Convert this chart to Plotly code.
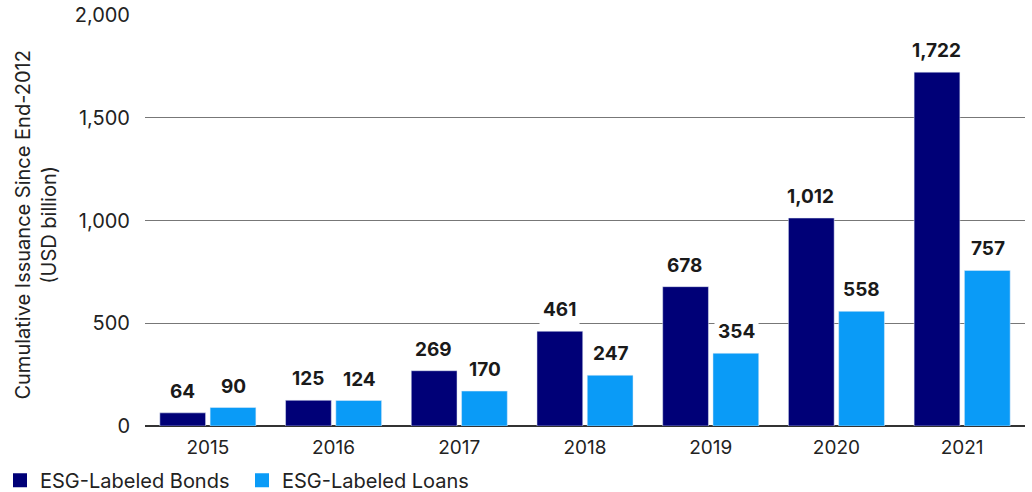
import plotly.graph_objects as go

years = ["2015", "2016", "2017", "2018", "2019", "2020", "2021"]
bonds = [64, 125, 269, 461, 678, 1012, 1722]
loans = [90, 124, 170, 247, 354, 558, 757]
series_names = ["ESG-Labeled Bonds", "ESG-Labeled Loans"]

bond_color = "#000077"
loan_color = "#0A9BF7"
font_family = "Inter, 'Noto Sans', sans-serif"

fig = go.Figure()
fig.add_bar(x=years, y=bonds, name=series_names[0], marker_color=bond_color,
            showlegend=False)
fig.add_bar(x=years, y=loans, name=series_names[1], marker_color=loan_color,
            showlegend=False)

# legend entries drawn as larger square swatches
for name, color in zip(series_names, (bond_color, loan_color)):
    fig.add_scatter(x=[None], y=[None], mode="markers", name=name,
                    marker=dict(symbol="square", size=14, color=color))

# value labels above each bar, with a white box that masks the gridlines
# (x given as category index so the category axis does not read "2015" as a number)
for i in range(len(years)):
    for val, shift in ((bonds[i], -25.5), (loans[i], 25.5)):
        fig.add_annotation(
            x=i, y=val, xref="x", yref="y", xshift=shift, yshift=6,
            text=f"<b>{val:,}</b>", showarrow=False, yanchor="bottom",
            bgcolor="white", borderpad=3,
            font=dict(family=font_family, size=19, color="#1a1a1a"),
        )

# y-axis title placed as a rotated annotation left of the tick labels
fig.add_annotation(
    xref="paper", yref="paper", x=-0.1239, y=0.49, xanchor="center", yanchor="middle",
    text="Cumulative Issuance Since End-2012<br>(USD billion)", textangle=-90,
    showarrow=False, font=dict(family=font_family, size=20, color="#222222"),
)

fig.update_layout(
    width=1032, height=492,
    margin=dict(l=145, r=7, t=15, b=66, autoexpand=False),
    paper_bgcolor="white", plot_bgcolor="white",
    barmode="group", bargap=0.2, bargroupgap=0.09,
    font=dict(family=font_family, size=19, color="#222222"),
    showlegend=True,
    legend=dict(orientation="h", xref="container", yref="container",
                x=0.0, xanchor="left", y=0.024, yanchor="middle",
                font=dict(size=20, color="#222222"),
                entrywidth=197, entrywidthmode="pixels",
                traceorder="normal"),
    xaxis=dict(type="category", range=[-0.5, len(years) - 0.5], showgrid=False,
               showline=False, ticks="", ticklabelstandoff=8, tickfont=dict(size=19)),
    yaxis=dict(range=[0, 2000], tickvals=[0, 500, 1000, 1500, 2000],
               tickformat=",d", showgrid=True, gridcolor="#777777", gridwidth=1,
               zeroline=True, zerolinecolor="#333333", zerolinewidth=1.5,
               ticks="", ticklabelstandoff=14, tickfont=dict(size=20)),
)

fig.write_html("out.html")
